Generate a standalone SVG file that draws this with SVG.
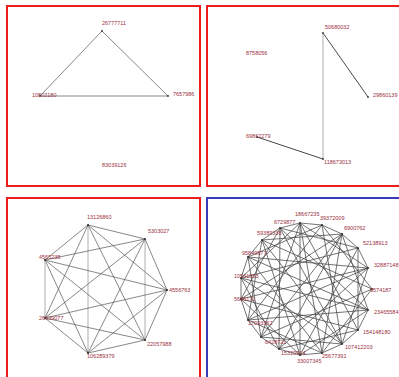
<svg xmlns="http://www.w3.org/2000/svg" width="399" height="377" viewBox="0 0 399 377">
<style>
.frame{fill:none;stroke-width:2}
.red{stroke:#ee1c1c}
.blue{stroke:#3a3ab8}
.lbl{font-family:"Liberation Sans",Arial,sans-serif;font-size:5.5px;fill:#9a3040}
.e{stroke:#555;stroke-width:0.7;fill:none}
.e4{stroke:#444;stroke-width:0.75;fill:none}
.ed{stroke:#333;stroke-width:0.9}
.el{stroke:#999;stroke-width:0.8}
.n{fill:#333}
</style>
<rect width="399" height="377" fill="#fff"/>
<g id="frames">
<rect class="frame red" x="7" y="6" width="193" height="180"/>
<rect class="frame red" x="207" y="6" width="200" height="180"/>
<rect class="frame red" x="7" y="198" width="193" height="200"/>
<rect class="frame blue" x="207" y="198" width="200" height="200"/>
</g>
<g id="connectors">
<g id="p1-edges" class="e">
<line x1="102" y1="31" x2="40" y2="96"/>
<line x1="102" y1="31" x2="168" y2="96"/>
<line x1="40" y1="96" x2="168" y2="96"/>
</g>
<g id="p2-edges" class="e">
<line class="ed" x1="323" y1="33" x2="368" y2="97"/>
<line class="el" x1="323" y1="33" x2="323" y2="159"/>
<line class="ed" x1="257" y1="137" x2="323" y2="159"/>
</g>
<g id="p3-edges" class="e">
<line x1="88" y1="225" x2="145" y2="239"/>
<line x1="88" y1="225" x2="167" y2="290"/>
<line x1="88" y1="225" x2="145" y2="340"/>
<line class="el" x1="88" y1="225" x2="88" y2="353"/>
<line x1="88" y1="225" x2="45" y2="318"/>
<line x1="88" y1="225" x2="45" y2="260"/>
<line x1="145" y1="239" x2="167" y2="290"/>
<line class="el" x1="145" y1="239" x2="145" y2="340"/>
<line x1="145" y1="239" x2="88" y2="353"/>
<line x1="145" y1="239" x2="45" y2="318"/>
<line x1="145" y1="239" x2="45" y2="260"/>
<line x1="167" y1="290" x2="145" y2="340"/>
<line x1="167" y1="290" x2="88" y2="353"/>
<line x1="167" y1="290" x2="45" y2="318"/>
<line x1="167" y1="290" x2="45" y2="260"/>
<line x1="145" y1="340" x2="88" y2="353"/>
<line x1="145" y1="340" x2="45" y2="318"/>
<line x1="145" y1="340" x2="45" y2="260"/>
<line x1="88" y1="353" x2="45" y2="318"/>
<line x1="88" y1="353" x2="45" y2="260"/>
<line class="el" x1="45" y1="318" x2="45" y2="260"/>
</g>
<g id="p4-edges" class="e4">
<line x1="300" y1="223" x2="322" y2="225"/>
<line x1="322" y1="225" x2="342" y2="234"/>
<line x1="342" y1="234" x2="358" y2="248"/>
<line x1="358" y1="248" x2="368" y2="268"/>
<line x1="368" y1="310" x2="358" y2="330"/>
<line x1="358" y1="330" x2="342" y2="344"/>
<line x1="342" y1="344" x2="322" y2="353"/>
<line x1="322" y1="353" x2="300" y2="355"/>
<line x1="300" y1="355" x2="279" y2="349"/>
<line x1="279" y1="349" x2="261" y2="337"/>
<line x1="261" y1="337" x2="248" y2="320"/>
<line x1="248" y1="320" x2="241" y2="299"/>
<line x1="241" y1="299" x2="241" y2="278"/>
<line x1="241" y1="278" x2="248" y2="257"/>
<line x1="248" y1="257" x2="262" y2="240"/>
<line x1="262" y1="240" x2="280" y2="228"/>
<line x1="280" y1="228" x2="300" y2="223"/>
<line x1="300" y1="223" x2="368" y2="268"/>
<line x1="322" y1="225" x2="372" y2="289"/>
<line x1="342" y1="234" x2="368" y2="310"/>
<line x1="358" y1="248" x2="358" y2="330"/>
<line x1="368" y1="268" x2="342" y2="344"/>
<line x1="372" y1="289" x2="322" y2="353"/>
<line x1="368" y1="310" x2="300" y2="355"/>
<line x1="358" y1="330" x2="279" y2="349"/>
<line x1="342" y1="344" x2="261" y2="337"/>
<line x1="322" y1="353" x2="248" y2="320"/>
<line x1="300" y1="355" x2="241" y2="299"/>
<line x1="279" y1="349" x2="241" y2="278"/>
<line x1="261" y1="337" x2="248" y2="257"/>
<line x1="248" y1="320" x2="262" y2="240"/>
<line x1="241" y1="299" x2="280" y2="228"/>
<line x1="241" y1="278" x2="300" y2="223"/>
<line x1="248" y1="257" x2="322" y2="225"/>
<line x1="262" y1="240" x2="342" y2="234"/>
<line x1="280" y1="228" x2="358" y2="248"/>
<line x1="300" y1="223" x2="358" y2="330"/>
<line x1="322" y1="225" x2="342" y2="344"/>
<line x1="342" y1="234" x2="322" y2="353"/>
<line x1="358" y1="248" x2="300" y2="355"/>
<line x1="368" y1="268" x2="279" y2="349"/>
<line x1="372" y1="289" x2="261" y2="337"/>
<line x1="368" y1="310" x2="248" y2="320"/>
<line x1="358" y1="330" x2="241" y2="299"/>
<line x1="342" y1="344" x2="241" y2="278"/>
<line x1="322" y1="353" x2="248" y2="257"/>
<line x1="300" y1="355" x2="262" y2="240"/>
<line x1="279" y1="349" x2="280" y2="228"/>
<line x1="261" y1="337" x2="300" y2="223"/>
<line x1="248" y1="320" x2="322" y2="225"/>
<line x1="241" y1="299" x2="342" y2="234"/>
<line x1="241" y1="278" x2="358" y2="248"/>
<line x1="248" y1="257" x2="368" y2="268"/>
<line x1="262" y1="240" x2="372" y2="289"/>
<line x1="280" y1="228" x2="368" y2="310"/>
<line x1="300" y1="223" x2="322" y2="353"/>
<line x1="342" y1="234" x2="279" y2="349"/>
<line x1="368" y1="268" x2="248" y2="320"/>
<line x1="368" y1="310" x2="241" y2="278"/>
<line x1="342" y1="344" x2="262" y2="240"/>
<line x1="300" y1="355" x2="300" y2="223"/>
<line x1="261" y1="337" x2="342" y2="234"/>
<line x1="241" y1="299" x2="368" y2="268"/>
<line x1="248" y1="257" x2="368" y2="310"/>
<line x1="280" y1="228" x2="342" y2="344"/>
</g>
</g>
<g id="p1-n1"><circle class="n" cx="102" cy="31" r="0.9"/><text class="lbl" x="102" y="25">26777711</text></g>
<g id="p1-n2"><circle class="n" cx="40" cy="96" r="0.9"/><text class="lbl" x="32" y="96.5">10802180</text></g>
<g id="p1-n3"><circle class="n" cx="168" cy="96" r="0.9"/><text class="lbl" x="173" y="96">7657986</text></g>
<g id="p1-n4"><text class="lbl" x="102" y="167">83039126</text></g>
<g id="p2-n1"><circle class="n" cx="323" cy="33" r="0.9"/><text class="lbl" x="325" y="29">50680032</text></g>
<g id="p2-n2"><text class="lbl" x="246" y="55">8758056</text></g>
<g id="p2-n3"><circle class="n" cx="368" cy="97" r="0.9"/><text class="lbl" x="373" y="97">29860139</text></g>
<g id="p2-n4"><circle class="n" cx="257" cy="137" r="0.9"/><text class="lbl" x="246" y="138">69862279</text></g>
<g id="p2-n5"><circle class="n" cx="323" cy="159" r="0.9"/><text class="lbl" x="324" y="164">118673013</text></g>
<g id="p3-n1"><circle class="n" cx="88" cy="225" r="1.1"/><text class="lbl" x="87" y="219">13126860</text></g>
<g id="p3-n2"><circle class="n" cx="145" cy="239" r="1.1"/><text class="lbl" x="148" y="233">5303027</text></g>
<g id="p3-n3"><circle class="n" cx="167" cy="290" r="1.1"/><text class="lbl" x="169" y="292">4556763</text></g>
<g id="p3-n4"><circle class="n" cx="145" cy="340" r="1.1"/><text class="lbl" x="147" y="346">22057988</text></g>
<g id="p3-n5"><circle class="n" cx="88" cy="353" r="1.1"/><text class="lbl" x="87" y="358">106289379</text></g>
<g id="p3-n6"><circle class="n" cx="45" cy="318" r="1.1"/><text class="lbl" x="39" y="320">26639077</text></g>
<g id="p3-n7"><circle class="n" cx="45" cy="260" r="1.1"/><text class="lbl" x="39" y="259">4565238</text></g>
<g id="p4-n0"><circle class="n" cx="300" cy="223" r="1"/><text class="lbl" x="295" y="216">18667235</text></g>
<g id="p4-n1"><circle class="n" cx="322" cy="225" r="1"/><text class="lbl" x="320" y="220">39372009</text></g>
<g id="p4-n2"><circle class="n" cx="342" cy="234" r="1"/><text class="lbl" x="344" y="230">6900762</text></g>
<g id="p4-n3"><circle class="n" cx="358" cy="248" r="1"/><text class="lbl" x="363" y="245">52138913</text></g>
<g id="p4-n4"><circle class="n" cx="368" cy="268" r="1"/><text class="lbl" x="374" y="267">32887148</text></g>
<g id="p4-n5"><circle class="n" cx="372" cy="289" r="1"/><text class="lbl" x="370" y="292">9574187</text></g>
<g id="p4-n6"><circle class="n" cx="368" cy="310" r="1"/><text class="lbl" x="374" y="314">23465584</text></g>
<g id="p4-n7"><circle class="n" cx="358" cy="330" r="1"/><text class="lbl" x="363" y="334">154148180</text></g>
<g id="p4-n8"><circle class="n" cx="342" cy="344" r="1"/><text class="lbl" x="345" y="349">107412203</text></g>
<g id="p4-n9"><circle class="n" cx="322" cy="353" r="1"/><text class="lbl" x="322" y="358">25677391</text></g>
<g id="p4-n10"><circle class="n" cx="300" cy="355" r="1"/><text class="lbl" x="297" y="363">33007345</text></g>
<g id="p4-n11"><circle class="n" cx="279" cy="349" r="1"/><text class="lbl" x="281" y="355">15320914</text></g>
<g id="p4-n12"><circle class="n" cx="261" cy="337" r="1"/><text class="lbl" x="265" y="344">6428721</text></g>
<g id="p4-n13"><circle class="n" cx="248" cy="320" r="1"/><text class="lbl" x="248" y="325">17093362</text></g>
<g id="p4-n14"><circle class="n" cx="241" cy="299" r="1"/><text class="lbl" x="234" y="301">5686171</text></g>
<g id="p4-n15"><circle class="n" cx="241" cy="278" r="1"/><text class="lbl" x="234" y="278">10561853</text></g>
<g id="p4-n16"><circle class="n" cx="248" cy="257" r="1"/><text class="lbl" x="242" y="255">95849977</text></g>
<g id="p4-n17"><circle class="n" cx="262" cy="240" r="1"/><text class="lbl" x="257" y="235">59389338</text></g>
<g id="p4-n18"><circle class="n" cx="280" cy="228" r="1"/><text class="lbl" x="274" y="224">6729877</text></g>
</svg>
